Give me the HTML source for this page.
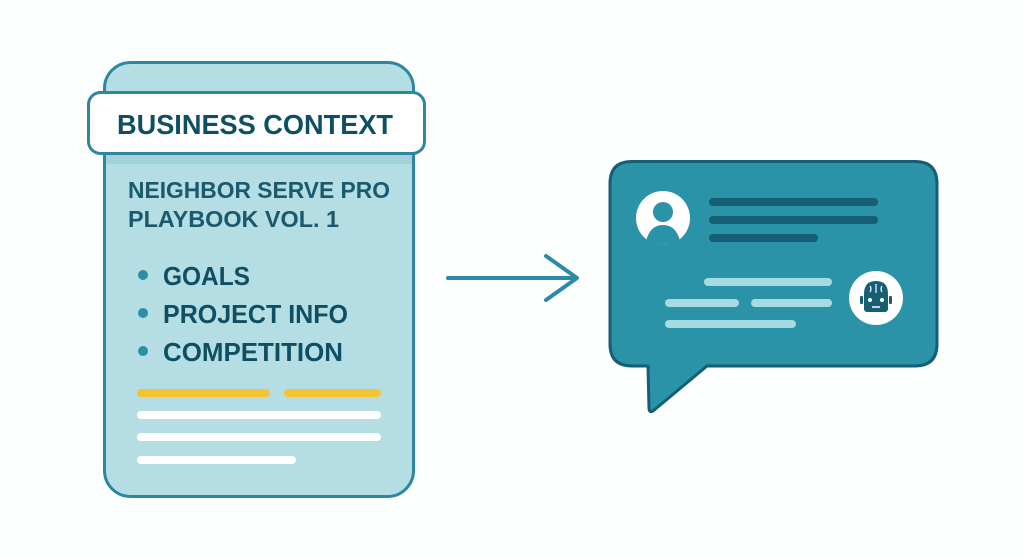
<!DOCTYPE html>
<html><head><meta charset="utf-8"><style>
html,body{margin:0;padding:0;background:#fff;width:1024px;height:559px;overflow:hidden}
svg{display:block}
text{font-family:"Liberation Sans",sans-serif;fill:#0f4f64}
</style></head><body>
<svg width="1024" height="559" viewBox="0 0 1024 559" xmlns="http://www.w3.org/2000/svg">
<rect x="0" y="0" width="1024" height="559" fill="#fdfefe"/>
<!-- left card -->
<rect x="104.5" y="62.5" width="309" height="434" rx="26" fill="#b4dde4" stroke="#2d87a0" stroke-width="3"/>
<rect x="106" y="150" width="306" height="14" fill="#a3d2da"/>
<rect x="88.5" y="92.5" width="336" height="61" rx="12" fill="#ffffff" stroke="#2d87a0" stroke-width="3"/>
<text x="117" y="134" font-size="28" font-weight="bold" textLength="276" lengthAdjust="spacingAndGlyphs">BUSINESS CONTEXT</text>
<text x="128" y="198" font-size="23" font-weight="bold" style="fill:#1b5a6e" textLength="262" lengthAdjust="spacingAndGlyphs">NEIGHBOR SERVE PRO</text>
<text x="128" y="227" font-size="23" font-weight="bold" style="fill:#1b5a6e" textLength="211" lengthAdjust="spacingAndGlyphs">PLAYBOOK VOL. 1</text>
<circle cx="143" cy="275" r="5" fill="#2a8fa3"/>
<circle cx="143" cy="313" r="5" fill="#2a8fa3"/>
<circle cx="143" cy="351" r="5" fill="#2a8fa3"/>
<text x="163" y="285" font-size="26" font-weight="bold" textLength="87" lengthAdjust="spacingAndGlyphs">GOALS</text>
<text x="163" y="323" font-size="26" font-weight="bold" textLength="185" lengthAdjust="spacingAndGlyphs">PROJECT INFO</text>
<text x="163" y="361" font-size="26" font-weight="bold" textLength="180" lengthAdjust="spacingAndGlyphs">COMPETITION</text>
<g stroke-linecap="round" stroke-width="8">
<line x1="141" y1="393" x2="266" y2="393" stroke="#f6c431"/>
<line x1="288" y1="393" x2="377" y2="393" stroke="#f6c431"/>
<line x1="141" y1="415" x2="377" y2="415" stroke="#fff"/>
<line x1="141" y1="437" x2="377" y2="437" stroke="#fff"/>
<line x1="141" y1="460" x2="292" y2="460" stroke="#fff"/>
</g>
<!-- arrow -->
<g stroke="#2a8aa8" stroke-width="4" fill="none" stroke-linecap="round" stroke-linejoin="round">
<line x1="448" y1="278" x2="575" y2="278"/>
<polyline points="546,256 577,278 546,300"/>
</g>
<!-- bubble -->
<path d="M632,161.5 H915 Q937,161.5 937,183.5 V344 Q937,366 915,366 H707 L653,411 Q649,413 649,408 L648,366 H632 Q610,366 610,344 V183.5 Q610,161.5 632,161.5 Z" fill="#2a93a8" stroke="#155e73" stroke-width="3" stroke-linejoin="round"/>
<circle cx="663" cy="218" r="27" fill="#fff"/>
<circle cx="663" cy="212" r="10" fill="#2a93a8"/>
<path d="M646,241 Q650,225 663,225 Q676,225 680,241 Q672,245 663,245 Q654,245 646,241 Z" fill="#2a93a8"/>
<g stroke-linecap="round" stroke-width="8">
<line x1="713" y1="202" x2="874" y2="202" stroke="#155e73"/>
<line x1="713" y1="220" x2="874" y2="220" stroke="#155e73"/>
<line x1="713" y1="238" x2="814" y2="238" stroke="#155e73"/>
<line x1="708" y1="282" x2="828" y2="282" stroke="#a7dbe2"/>
<line x1="669" y1="303" x2="735" y2="303" stroke="#a7dbe2"/>
<line x1="755" y1="303" x2="828" y2="303" stroke="#a7dbe2"/>
<line x1="669" y1="324" x2="792" y2="324" stroke="#a7dbe2"/>
</g>
<circle cx="876" cy="298" r="27" fill="#fff"/>
<g fill="#155e73">
<path d="M864,294 Q864,281 876,281 Q888,281 888,294 Z"/>
<rect x="864" y="292" width="24" height="20" rx="3"/>
<rect x="860" y="296" width="3" height="8" rx="1"/>
<rect x="889" y="296" width="3" height="8" rx="1"/>
</g>
<g stroke="#fff" stroke-width="1.2" fill="none">
<path d="M876,284 V293 M870,286 Q872,289 870,292 M882,286 Q880,289 882,292"/>
</g>
<circle cx="870" cy="300" r="2" fill="#fff"/>
<circle cx="882" cy="300" r="2" fill="#fff"/>
<line x1="872" y1="307" x2="880" y2="307" stroke="#fff" stroke-width="1.5"/>
</svg>
</body></html>
